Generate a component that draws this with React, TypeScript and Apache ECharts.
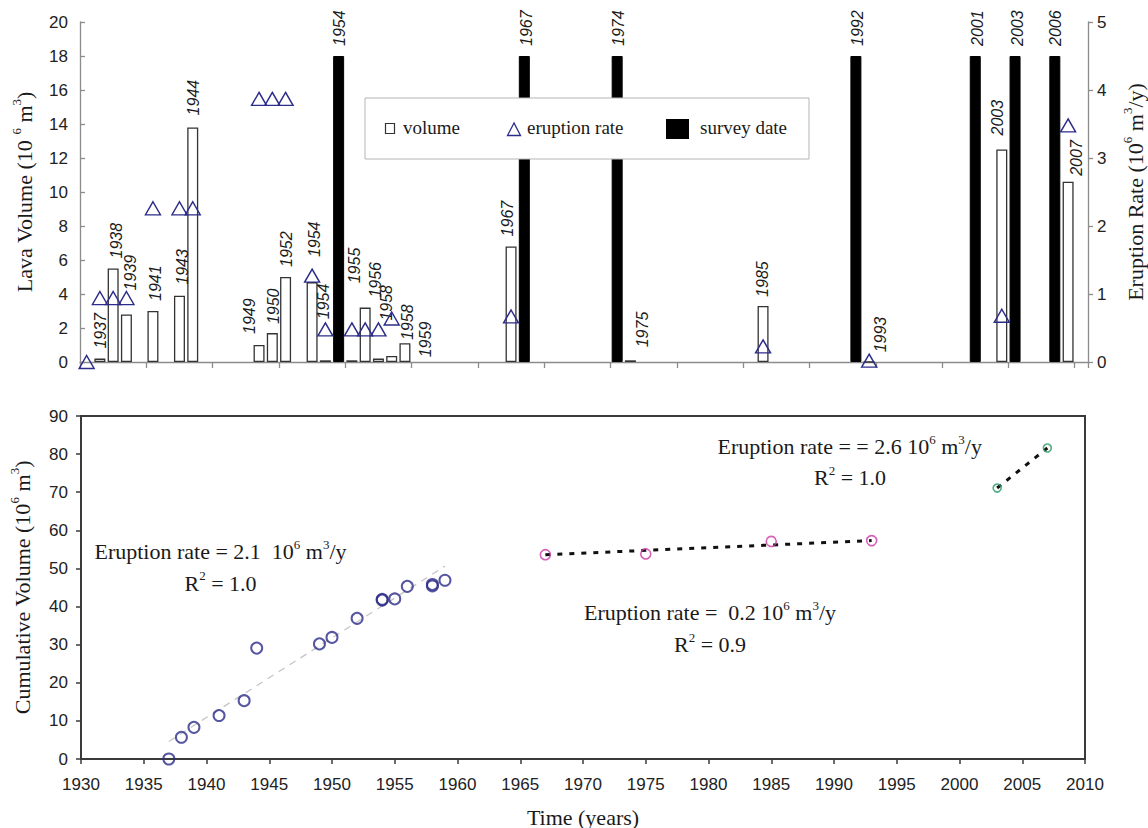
import React, { useEffect, useRef } from 'react';
import * as echarts from 'echarts';

// ---------- Top panel: Excel-style category slots ----------
const slotCount = 76;

const volumeSlots = [1, 2, 3, 5, 7, 8, 13, 14, 15, 17, 18, 20, 21, 22, 23, 24, 32, 41, 51, 59, 69, 74];
const volumeValues = [0.2, 5.5, 2.8, 3.0, 3.9, 13.8, 1.0, 1.7, 5.0, 4.7, 0.1, 0.1, 3.2, 0.2, 0.35, 1.1, 6.8, 0.1, 3.3, 0, 12.5, 10.6];
const volumeYears = ['1937', '1938', '1939', '1941', '1943', '1944', '1949', '1950', '1952', '1954', '1954', '1955', '1956', '1958', '1958', '1959', '1967', '1975', '1985', '1993', '2003', '2007'];

const surveySlots = [19, 33, 40, 58, 67, 70, 73];
const surveyValues = [18, 18, 18, 18, 18, 18, 18];
const surveyYears = ['1954', '1967', '1974', '1992', '2001', '2003', '2006'];

const rateSlots = [0, 1, 2, 3, 5, 7, 8, 13, 14, 15, 17, 18, 20, 21, 22, 23, 32, 51, 59, 69, 74];
const rateValues = [0, 0.94, 0.94, 0.94, 2.26, 2.26, 2.26, 3.87, 3.87, 3.87, 1.27, 0.48, 0.48, 0.48, 0.48, 0.64, 0.67, 0.23, 0.02, 0.68, 3.48];

// label nudges (style only): [horizontal shift px, gap above bar px]
const volumeLabelNudge = [
  [1, 10], [3, 10], [4, 24], [3, 10], [3, 11], [1, 12], [-10, 11], [1, 9], [1, 10], [2, 25], [-2, 41],
  [3, 77], [10, 10], [8, 38], [16, 16], [21, -14], [-4, 10], [12, 13], [-1, 9], [11, 9], [-4, 14], [8, 6],
];
const surveyLabelNudge = [[1, 10], [2, 10], [1, 10], [2, 10], [2, 10], [2, 10], [1, 10]];

// ---------- Bottom panel: cumulative volume ----------
const earlyYears = [1937, 1938, 1939, 1941, 1943, 1944, 1949, 1950, 1952, 1954, 1954, 1955, 1956, 1958, 1958, 1959];
const earlyCum = [0, 5.7, 8.3, 11.4, 15.3, 29.1, 30.2, 31.9, 36.9, 41.7, 41.9, 42.0, 45.3, 45.4, 45.8, 46.9];
const midYears = [1967, 1975, 1985, 1993];
const midCum = [53.6, 53.8, 57.1, 57.3];
const lateYears = [2003, 2007];
const lateCum = [71.1, 81.6];

const earlyFitYears = [1937, 1959];
const earlyFit = [4.6, 50.6];
const midFitYears = [1967, 1993];
const midFit = [53.6, 57.3];
const lateFitYears = [2003, 2007];
const lateFit = [71.1, 81.6];

const SANS = '"Liberation Sans", Arial, sans-serif';
const SERIF = '"Liberation Serif", "Times New Roman", serif';
const NAVY = '#2c2c8a';
const INK = '#1a1a1a';

const supRich = {
  s: { fontSize: 13, lineHeight: 13, verticalAlign: 'top', fontFamily: SERIF, color: INK, fill: INK },
};

export default function App() {
  const ref = useRef<HTMLDivElement>(null);

  useEffect(() => {
    const chart = echarts.init(ref.current as HTMLDivElement, null, { renderer: 'svg' });
    const cats = Array.from({ length: slotCount }, (_, i) => String(i));

    const barLabel = {
      show: true,
      position: 'top',
      rotate: 90,
      align: 'left',
      verticalAlign: 'middle',
      distance: 0,
      fontFamily: SANS,
      fontSize: 16,
      fontStyle: 'italic',
      color: INK,
    };

    const volumeData: any[] = cats.map(() => '-');
    volumeSlots.forEach((s, i) => {
      const [dx, gap] = volumeLabelNudge[i];
      volumeData[s] = { value: volumeValues[i], label: { formatter: volumeYears[i], offset: [gap, dx] } };
    });
    const surveyData: any[] = cats.map(() => '-');
    surveySlots.forEach((s, i) => {
      const [dx, gap] = surveyLabelNudge[i];
      surveyData[s] = { value: surveyValues[i], label: { formatter: surveyYears[i], offset: [gap, dx] } };
    });
    const rateData = rateSlots.map((s, i) => [s, rateValues[i]]);

    const serifName = (size: number) => ({
      fontFamily: SERIF,
      fontSize: size,
      color: INK,
      lineHeight: 28,
      rich: supRich,
    });

    const annot = (x: number, y: number, text: string) => ({
      type: 'text',
      x,
      y,
      z: 50,
      style: {
        text,
        fontFamily: SERIF,
        fontSize: 22,
        lineHeight: 28,
        fill: INK,
        align: 'center',
        verticalAlign: 'middle',
        rich: supRich,
      },
    });

    const legendText = (x: number, text: string) => ({
      type: 'text',
      x,
      y: 127.5,
      z: 102,
      style: { text, fontFamily: SERIF, fontSize: 19, fill: INK, align: 'left', verticalAlign: 'middle' },
    });

    const option: any = {
      animation: false,
      backgroundColor: '#ffffff',
      grid: [
        { left: 80, top: 22, width: 1008, height: 340, containLabel: false, outerBoundsMode: 'none' },
        {
          left: 81, top: 416, width: 1004, height: 343, containLabel: false, outerBoundsMode: 'none',
          show: true, borderColor: '#3a3a3a', borderWidth: 2, backgroundColor: 'transparent',
        },
      ],
      xAxis: [
        {
          type: 'category',
          gridIndex: 0,
          data: cats,
          boundaryGap: true,
          axisLine: { show: true, lineStyle: { color: '#8c8c8c', width: 1.3 } },
          axisTick: { show: true, interval: 4, length: 6, lineStyle: { color: '#8c8c8c', width: 1.3 } },
          axisLabel: { show: false },
          splitLine: { show: false },
        },
        {
          type: 'value',
          gridIndex: 1,
          min: 1930,
          max: 2010,
          interval: 5,
          name: 'Time (years)',
          nameLocation: 'middle',
          nameGap: 47,
          nameTextStyle: { fontFamily: SERIF, fontSize: 22, color: INK },
          axisLine: { show: true, onZero: false, lineStyle: { color: '#3a3a3a', width: 2 } },
          axisTick: { show: true, length: 5, lineStyle: { color: '#3a3a3a', width: 1.5 } },
          axisLabel: { fontFamily: SANS, fontSize: 17, color: '#222', margin: 17, formatter: (v: number) => String(v) },
          splitLine: { show: false },
        },
      ],
      yAxis: [
        {
          type: 'value',
          gridIndex: 0,
          min: 0,
          max: 20,
          interval: 2,
          position: 'left',
          name: 'Lava Volume (10 {s|6} m{s|3})',
          nameLocation: 'middle',
          nameRotate: 90,
          nameGap: 38,
          nameTextStyle: serifName(22),
          axisLine: { show: true, lineStyle: { color: '#8c8c8c', width: 1.3 } },
          axisTick: { show: true, inside: true, length: 5, lineStyle: { color: '#8c8c8c', width: 1.3 } },
          axisLabel: { fontFamily: SANS, fontSize: 17, color: '#222', margin: 12 },
          splitLine: { show: false },
        },
        {
          type: 'value',
          gridIndex: 0,
          min: 0,
          max: 5,
          interval: 1,
          position: 'right',
          name: 'Eruption Rate (10{s|6} m{s|3}/y)',
          nameLocation: 'middle',
          nameRotate: 90,
          nameGap: 33,
          nameTextStyle: serifName(22),
          axisLine: { show: true, lineStyle: { color: '#8c8c8c', width: 1.3 } },
          axisTick: { show: true, length: 5, lineStyle: { color: '#8c8c8c', width: 1.3 } },
          axisLabel: { fontFamily: SANS, fontSize: 17, color: '#222', margin: 9 },
          splitLine: { show: false },
        },
        {
          type: 'value',
          gridIndex: 1,
          min: 0,
          max: 90,
          interval: 10,
          name: 'Cumulative Volume (10{s|6} m{s|3})',
          nameLocation: 'middle',
          nameRotate: 90,
          nameGap: 45,
          nameTextStyle: serifName(22),
          axisLine: { show: true, onZero: false, lineStyle: { color: '#3a3a3a', width: 2 } },
          axisTick: { show: true, length: 5, lineStyle: { color: '#3a3a3a', width: 1.5 } },
          axisLabel: { fontFamily: SANS, fontSize: 17, color: '#222', margin: 13 },
          splitLine: { show: false },
        },
      ],
      series: [
        {
          name: 'volume',
          type: 'bar',
          xAxisIndex: 0,
          yAxisIndex: 0,
          data: volumeData,
          barWidth: 11,
          barGap: '-100%',
          itemStyle: { color: '#ffffff', borderColor: '#333', borderWidth: 1.3 },
          label: barLabel,
          z: 3,
        },
        {
          name: 'survey date',
          type: 'bar',
          xAxisIndex: 0,
          yAxisIndex: 0,
          data: surveyData,
          barWidth: 11,
          barGap: '-100%',
          itemStyle: { color: '#000000', borderColor: '#000', borderWidth: 1 },
          label: barLabel,
          z: 2,
        },
        {
          name: 'eruption rate',
          type: 'scatter',
          xAxisIndex: 0,
          yAxisIndex: 1,
          data: rateData,
          symbol: 'triangle',
          symbolSize: [15, 13],
          clip: false,
          itemStyle: { color: 'rgba(255,255,255,0)', borderColor: NAVY, borderWidth: 1.4, opacity: 1 },
          z: 5,
        },
        {
          type: 'line',
          xAxisIndex: 1,
          yAxisIndex: 2,
          data: earlyFitYears.map((y, i) => [y, earlyFit[i]]),
          showSymbol: false,
          lineStyle: { color: '#c4c4c4', width: 1.3, type: [7, 6] },
          z: 2,
        },
        {
          type: 'line',
          xAxisIndex: 1,
          yAxisIndex: 2,
          data: midFitYears.map((y, i) => [y, midFit[i]]),
          showSymbol: false,
          lineStyle: { color: '#111', width: 3, type: [5, 7] },
          z: 2,
        },
        {
          type: 'line',
          xAxisIndex: 1,
          yAxisIndex: 2,
          data: lateFitYears.map((y, i) => [y, lateFit[i]]),
          showSymbol: false,
          lineStyle: { color: '#111', width: 3, type: [5, 7] },
          z: 2,
        },
        {
          type: 'scatter',
          xAxisIndex: 1,
          yAxisIndex: 2,
          data: earlyYears.map((y, i) => [y, earlyCum[i]]),
          symbol: 'circle',
          symbolSize: 11,
          clip: false,
          itemStyle: { color: 'rgba(255,255,255,0)', borderColor: NAVY, borderWidth: 2 },
          z: 4,
        },
        {
          type: 'scatter',
          xAxisIndex: 1,
          yAxisIndex: 2,
          data: midYears.map((y, i) => [y, midCum[i]]),
          symbol: 'circle',
          symbolSize: 10,
          clip: false,
          itemStyle: { color: 'rgba(255,255,255,0)', borderColor: '#c93aa6', borderWidth: 1.6 },
          z: 4,
        },
        {
          type: 'scatter',
          xAxisIndex: 1,
          yAxisIndex: 2,
          data: lateYears.map((y, i) => [y, lateCum[i]]),
          symbol: 'circle',
          symbolSize: 8,
          clip: false,
          itemStyle: { color: 'rgba(255,255,255,0)', borderColor: '#2b9a68', borderWidth: 1.6 },
          z: 4,
        },
      ],
      graphic: [
        { type: 'rect', z: 100, shape: { x: 365, y: 98, width: 444, height: 61 }, style: { fill: '#ffffff', stroke: '#b5b5b5', lineWidth: 1 } },
        { type: 'rect', z: 101, shape: { x: 385.5, y: 123.5, width: 9, height: 10 }, style: { fill: '#ffffff', stroke: '#333', lineWidth: 1.2 } },
        legendText(403, 'volume'),
        { type: 'polygon', z: 101, shape: { points: [[514, 123], [507.5, 135.5], [520.5, 135.5]] }, style: { fill: 'rgba(255,255,255,0)', stroke: NAVY, lineWidth: 1.3 } },
        legendText(527, 'eruption rate'),
        { type: 'rect', z: 101, shape: { x: 666, y: 119, width: 23, height: 20 }, style: { fill: '#000000' } },
        legendText(700, 'survey date'),
        annot(220.5, 551.8, 'Eruption rate = 2.1  10{s|6} m{s|3}/y'),
        annot(220.5, 583.2, 'R{s|2} = 1.0'),
        annot(710, 612.5, 'Eruption rate =  0.2 10{s|6} m{s|3}/y'),
        annot(710, 644.8, 'R{s|2} = 0.9'),
        annot(849.7, 446.5, 'Eruption rate = = 2.6 10{s|6} m{s|3}/y'),
        annot(850, 477.5, 'R{s|2} = 1.0'),
      ],
    };

    chart.setOption(option);
    return () => {
      chart.dispose();
    };
  }, []);

  return (
    <div
      ref={ref}
      style={{ position: 'fixed', left: 0, top: 0, width: 1148, height: 828, background: '#fff' }}
    />
  );
}
